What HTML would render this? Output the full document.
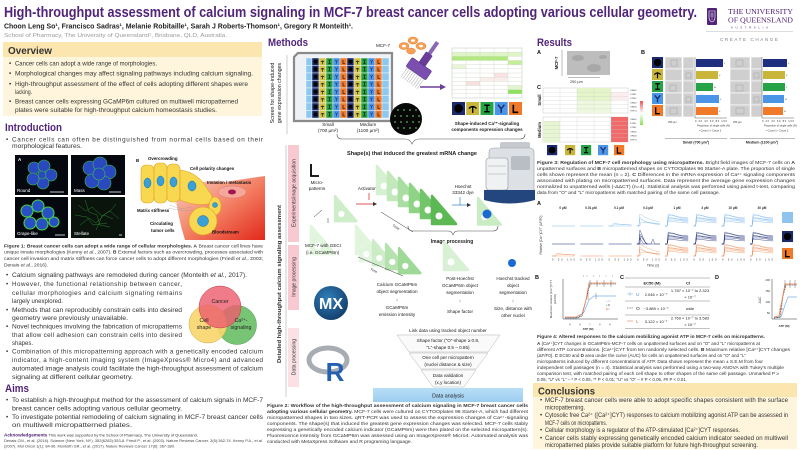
<!DOCTYPE html>
<html><head><meta charset="utf-8">
<style>
html,body{margin:0;padding:0;background:#fff;width:800px;height:450px;overflow:hidden}
svg{display:block;font-family:"Liberation Sans",Arial,sans-serif}
.b{font-size:6.3px;fill:#333}
.c{font-size:4.2px;fill:#333}
.t{font-size:4.8px;fill:#222}
.bd{font-weight:bold}
</style></head><body>
<svg width="800" height="450" viewBox="0 0 800 450" xmlns="http://www.w3.org/2000/svg" xmlns:xlink="http://www.w3.org/1999/xlink">
<defs>
<linearGradient id="blood" x1="0" y1="0" x2="1" y2="1"><stop offset="0" stop-color="#fbd6c8"/><stop offset="0.55" stop-color="#f27a5e"/><stop offset="1" stop-color="#e2281c"/></linearGradient>
<radialGradient id="mx" cx="0.4" cy="0.35" r="0.7"><stop offset="0" stop-color="#2f7fb8"/><stop offset="1" stop-color="#123d6b"/></radialGradient>
<linearGradient id="da" x1="0" y1="0" x2="0" y2="1"><stop offset="0" stop-color="#b8def6"/><stop offset="1" stop-color="#9ccdef"/></linearGradient>
<g id="iO"><rect width="12" height="12" fill="#1b2a6b"/><circle cx="6" cy="6" r="4" fill="#000"/></g>
<g id="iT"><rect width="12" height="12" fill="#c9b53a"/><path d="M6,4.5v5.5M2.5,6q3.5,-3.5 7,0" stroke="#000" stroke-width="1.3" fill="none"/></g>
<g id="iI"><rect width="12" height="12" fill="#27a347"/><path d="M6,3v6M3.5,3h5M3.5,9h5" stroke="#000" stroke-width="1.3" fill="none"/></g>
<g id="iY"><rect width="12" height="12" fill="#4a95e6"/><path d="M3,2.5l3,3.8l3,-3.8M6,6.3v3.7" stroke="#1b2a6b" stroke-width="1.4" fill="none"/></g>
<g id="iL"><rect width="12" height="12" fill="#f07a2a"/><path d="M4,2.5v7h4.5" stroke="#000" stroke-width="1.5" fill="none"/></g>
<g id="prow" stroke="#fff" stroke-width="0.4">
<rect x="306" width="6" height="7.5" fill="#8cc8f0"/>
<rect x="312" width="7" height="7.5" fill="#1b2a6b"/><rect x="319" width="7" height="7.5" fill="#d4c445"/><rect x="326" width="7" height="7.5" fill="#27a347"/><rect x="333" width="7" height="7.5" fill="#4a95e6"/><rect x="340" width="7" height="7.5" fill="#f07a2a"/>
<rect x="347" width="7" height="7.5" fill="#1b2a6b"/><rect x="354" width="7" height="7.5" fill="#d4c445"/><rect x="361" width="7" height="7.5" fill="#27a347"/><rect x="368" width="7" height="7.5" fill="#4a95e6"/><rect x="375" width="7" height="7.5" fill="#f07a2a"/>
<rect x="382" width="7" height="7.5" fill="#8cc8f0"/>
<g stroke="none"><circle cx="315.5" cy="3.75" r="2" fill="#000"/><circle cx="350.5" cy="3.75" r="2" fill="#000"/></g>
<path d="M322.5,2.8v3.5M320.8,3.8q1.7,-1.8 3.4,0M357.5,2.8v3.5M355.8,3.8q1.7,-1.8 3.4,0M329.5,2v3.5M328.3,2h2.4M328.3,5.5h2.4M364.5,2v3.5M363.3,2h2.4M363.3,5.5h2.4M343,2v3.5h2M378,2v3.5h2" stroke="#000" stroke-width="0.6" fill="none"/>
<path d="M335.3,2l1.2,1.6l1.2,-1.6M336.5,3.6v2.2M370.3,2l1.2,1.6l1.2,-1.6M371.5,3.6v2.2" stroke="#1b2a6b" stroke-width="0.6" fill="none"/>
</g>
<g id="tri"><path d="M0,0L0,28L24,28Z" stroke-linejoin="round" stroke-width="2.5"/><circle cx="7" cy="20" r="3.5" fill="#fff" stroke="none"/></g>
<g id="flat" fill="none"><polyline points="0,15 23,15"/></g>
<g id="small" fill="none" stroke-width="0.35"><polyline points="0,15 3,15 5,12 10,13 23,14"/><polyline points="0,15 4,15 6,13 12,13.5 23,14"/><polyline points="0,15 23,15"/></g>
<g id="peak" fill="none" stroke-width="0.35"><polyline points="0,15 2,15 3,3 8,6 15,9 23,11"/><polyline points="0,15 2,15 3,8 10,11 23,13"/><polyline points="0,15 3,15 4,11 23,13"/><polyline points="0,15 2,15 3,6 7,10 13,12 23,14"/></g>
<g id="trans" fill="none" stroke-width="0.4"><polyline points="0,15 2,15 3,1 6,8 9,15 23,15"/><polyline points="0,15 2,15 3,5 7,11 10,15"/><polyline points="0,15 3,15 4,7 8,13 11,15"/><polyline points="0,15 2,15 3,9 6,14 8,15"/><polyline points="0,15 14,15 16,10 18,15 23,15"/></g>
<g id="plat" fill="none" stroke-width="0.4"><polyline points="0,15 2,15 3,6 8,7 14,8 23,9"/><polyline points="0,15 2,15 3,3 9,5 16,7 23,8"/><polyline points="0,15 2,15 3,9 10,9 17,10 23,11"/><polyline points="0,15 2,15 3,5 7,4 14,6 23,7"/><polyline points="0,15 2,15 3,10 12,11 23,12"/><polyline points="0,15 2,15 3,7 11,8 23,10"/></g>
</defs>

<!-- HEADER -->
<text x="4" y="17" font-size="14.5" font-weight="bold" fill="#51247a" textLength="693" lengthAdjust="spacingAndGlyphs">High-throughput assessment of calcium signaling in MCF-7 breast cancer cells adopting various cellular geometry.</text>
<text x="4" y="28.5" font-size="7" font-weight="bold" fill="#222" textLength="349" lengthAdjust="spacingAndGlyphs">Choon Leng So¹, Francisco Sadras¹, Melanie Robitaille¹, Sarah J Roberts-Thomson¹, Gregory R Monteith¹.</text>
<text x="4" y="37" font-size="5.6" fill="#9a9a9a" textLength="223" lengthAdjust="spacingAndGlyphs">School of Pharmacy, The University of Queensland¹, Brisbane, QLD, Australia.</text>
<!-- UQ logo -->
<rect x="707" y="8" width="10" height="17" rx="1" fill="#51247a"/>
<path d="M709,11h6v6q0,4 -3,5q-3,-1 -3,-5z" fill="none" stroke="#fff" stroke-width="0.6"/>
<path d="M710,14h4M710,16h4M712,12v8" stroke="#fff" stroke-width="0.4"/>
<text x="728" y="14" font-family="Liberation Serif,serif" font-size="7.5" fill="#51247a" textLength="65" lengthAdjust="spacingAndGlyphs">THE UNIVERSITY</text>
<text x="728" y="22.5" font-family="Liberation Serif,serif" font-size="7.5" fill="#51247a" textLength="65" lengthAdjust="spacingAndGlyphs">OF QUEENSLAND</text>
<text x="731" y="28.5" font-size="2.8" fill="#51247a" textLength="37" lengthAdjust="spacing">AUSTRALIA</text>
<line x1="706" y1="31.5" x2="793" y2="31.5" stroke="#bbb" stroke-width="0.5"/>
<text x="720" y="41" font-size="4.6" fill="#7d7d8d" textLength="58" lengthAdjust="spacing">CREATE CHANGE</text>

<!-- OVERVIEW -->
<rect x="3" y="42" width="259" height="74" fill="#fef5dc"/>
<rect x="3" y="42" width="259" height="15" fill="#fbe6b0"/>
<text x="8" y="54" font-size="10" font-weight="bold" fill="#333" textLength="44" lengthAdjust="spacingAndGlyphs">Overview</text>
<g class="b">
<text x="9" y="65.5">•</text><text x="15" y="65.5" textLength="142" lengthAdjust="spacingAndGlyphs">Cancer cells can adopt a wide range of morphologies.</text>
<text x="9" y="75.5">•</text><text x="15" y="75.5" textLength="238" lengthAdjust="spacingAndGlyphs">Morphological changes may affect signaling pathways including calcium signaling.</text>
<text x="9" y="86">•</text><text x="15" y="86" textLength="233" lengthAdjust="spacingAndGlyphs">High-throughput assessment of the effect of cells adopting different shapes were</text>
<text x="15" y="94" textLength="17" lengthAdjust="spacingAndGlyphs">lacking.</text>
<text x="9" y="103.5">•</text><text x="15" y="103.5" textLength="223" lengthAdjust="spacingAndGlyphs">Breast cancer cells expressing GCaMP6m cultured on multiwell micropatterned</text>
<text x="15" y="112" textLength="202" lengthAdjust="spacingAndGlyphs">plates were suitable for high-throughput calcium homeostasis studies.</text>
</g>

<!-- INTRODUCTION -->
<text x="5" y="131" font-size="11" font-weight="bold" fill="#51247a" textLength="57" lengthAdjust="spacingAndGlyphs">Introduction</text>
<g class="b">
<text x="6" y="141.5">•</text><text x="12" y="141.5" textLength="251" lengthAdjust="spacing">Cancer cells can often be distinguished from normal cells based on their</text>
<text x="12" y="148.2" textLength="70" lengthAdjust="spacingAndGlyphs">morphological features.</text>
</g>
<!-- Fig1 A -->
<rect x="15" y="155" width="53" height="40" fill="#05080f"/>
<rect x="71" y="155" width="54" height="40" fill="#05080f"/>
<rect x="15" y="197" width="53" height="41" fill="#05080f"/>
<rect x="71" y="197" width="54" height="41" fill="#0a140c"/>
<g fill="#2a48c0" stroke="#3cbf4a" stroke-width="0.6">
<circle cx="34" cy="168" r="6"/><circle cx="44" cy="166" r="6"/><circle cx="51" cy="175" r="6"/><circle cx="43" cy="183" r="6"/><circle cx="33" cy="179" r="6"/><circle cx="42" cy="175" r="4"/>
<circle cx="90" cy="168" r="7"/><circle cx="100" cy="164" r="7"/><circle cx="109" cy="172" r="7"/><circle cx="104" cy="183" r="7"/><circle cx="92" cy="181" r="7"/><circle cx="99" cy="174" r="6"/>
</g>
<g fill="#2850c4" stroke="#4ad04a" stroke-width="1.1">
<circle cx="27" cy="211" r="6"/><circle cx="38" cy="206" r="6"/><circle cx="48" cy="213" r="6"/><circle cx="30" cy="223" r="6"/><circle cx="42" cy="224" r="6"/><circle cx="54" cy="222" r="5"/>
</g>
<g stroke="#2f8a34" stroke-width="0.5" fill="none" opacity="0.9">
<path d="M78,205l8,6l6,-4l10,9l8,-5l9,8M80,225l9,-7l7,5l8,-8l9,4M85,200l4,12l8,3l3,10l10,2M96,230l6,-14l9,-6l5,-6M75,215l12,2l6,8l14,-2"/>
</g>
<g fill="#fff" font-size="4.5">
<text x="18" y="161" font-weight="bold">A</text>
<text x="17" y="192">Round</text><text x="74" y="192">Mass</text><text x="17" y="235">Grape-like</text><text x="74" y="235">Stellate</text>
</g>
<path d="M50,192h14M109,192h12M55,235h10M119,235h3" stroke="#fff" stroke-width="0.8"/>
<!-- Fig1 B -->
<path d="M175,190 q30,-12 50,-8 q25,-4 40,-6 V240 H185 q-8,-25 -10,-50z" fill="url(#blood)"/>
<ellipse cx="232" cy="192" rx="14" ry="6" fill="#f5a79c" stroke="#e07a70" stroke-width="0.5"/>
<ellipse cx="232" cy="192" rx="4" ry="2.5" fill="#a0184e"/>
<ellipse cx="196" cy="198" rx="10" ry="5" fill="#f5a79c" stroke="#e07a70" stroke-width="0.5"/>
<ellipse cx="196" cy="198" rx="3.5" ry="2" fill="#a0184e"/>
<g fill="#f8d850" stroke="#e0a020" stroke-width="0.6">
<rect x="141" y="165" width="13" height="38" rx="5"/><rect x="154" y="163" width="13" height="40" rx="5"/><rect x="167" y="164" width="13" height="38" rx="5"/>
<path d="M180,170 q18,2 28,20 q8,8 0,14 q-14,2 -28,-4z"/>
<ellipse cx="215" cy="206" rx="6" ry="9"/>
<circle cx="203" cy="221" r="14"/>
</g>
<g fill="#3aa0d8" stroke="#1c6fa8" stroke-width="0.5">
<ellipse cx="147.5" cy="183" rx="3.5" ry="5"/><ellipse cx="160.5" cy="181" rx="3.5" ry="5"/><ellipse cx="173.5" cy="182" rx="3.5" ry="5"/><ellipse cx="192" cy="186" rx="4" ry="5"/><circle cx="203" cy="221" r="5.5"/><circle cx="215" cy="205" r="2.5"/>
</g>
<path d="M170,205 l10,4 l12,-2 M168,208 l15,3 l10,-1 M175,203 l8,8" stroke="#999" stroke-width="0.3" fill="none"/>
<g font-size="4.4" font-weight="bold" fill="#111">
<text x="136" y="162">B</text>
<text x="148" y="160">Overcrowding</text>
<text x="190" y="170">Cell polarity changes</text>
<text x="207" y="184">Invasion / metastasis</text>
<text x="137" y="212">Matrix stiffness</text>
<text x="150" y="225">Circulating</text><text x="151" y="232">tumor cells</text>
<text x="212" y="233.5">Bloodstream</text>
</g>
<g class="c">
<text x="4" y="247.3" textLength="259" lengthAdjust="spacingAndGlyphs"><tspan font-weight="bold">Figure 1: Breast cancer cells can adopt a wide range of cellular morphologies. A</tspan> Breast cancer cell lines have</text>
<text x="4" y="253.3" textLength="259" lengthAdjust="spacingAndGlyphs">unique innate morphologies (Kenny <tspan font-style="italic">et al.</tspan>, 2007). <tspan font-weight="bold">B</tspan> External factors such as overcrowding, processes associated with</text>
<text x="4" y="259.8" textLength="259" lengthAdjust="spacingAndGlyphs">cancer cell invasion and matrix stiffness can force cancer cells to adopt different morphologies (Friedl <tspan font-style="italic">et al.</tspan>, 2003;</text>
<text x="4" y="266.3" textLength="44" lengthAdjust="spacingAndGlyphs">Denais <tspan font-style="italic">et al.</tspan>, 2016).</text>
</g>
<g class="b">
<text x="6" y="277.2">•</text><text x="12" y="277.2" textLength="235" lengthAdjust="spacingAndGlyphs">Calcium signaling pathways are remodeled during cancer (Monteith <tspan font-style="italic">et al.</tspan>, 2017).</text>
<text x="6" y="286.2">•</text><text x="12" y="286.2" textLength="170" lengthAdjust="spacing">However, the functional relationship between cancer,</text>
<text x="12" y="294.9" textLength="170" lengthAdjust="spacing">cellular morphologies and calcium signaling remains</text>
<text x="12" y="303.2" textLength="51" lengthAdjust="spacingAndGlyphs">largely unexplored.</text>
<text x="6" y="312.2">•</text><text x="12" y="312.2" textLength="170" lengthAdjust="spacingAndGlyphs">Methods that can reproducibly constrain cells into desired</text>
<text x="12" y="320.2" textLength="116" lengthAdjust="spacingAndGlyphs">geometry were previously unavailable.</text>
<text x="6" y="328.5">•</text><text x="12" y="328.5" textLength="170" lengthAdjust="spacingAndGlyphs">Novel techniques involving the fabrication of micropatterns</text>
<text x="12" y="337" textLength="170" lengthAdjust="spacing">that allow cell adhesion can constrain cells into desired</text>
<text x="12" y="345.2" textLength="21" lengthAdjust="spacingAndGlyphs">shapes.</text>
<text x="6" y="353.5">•</text><text x="12" y="353.5" textLength="251" lengthAdjust="spacing">Combination of this micropatterning approach with a genetically encoded calcium</text>
<text x="12" y="362" textLength="251" lengthAdjust="spacing">indicator, a high-content imaging system (ImageXpress® Micro4) and advanced</text>
<text x="12" y="370.5" textLength="251" lengthAdjust="spacingAndGlyphs">automated image analysis could facilitate the high-throughput assessment of calcium</text>
<text x="12" y="379" textLength="121" lengthAdjust="spacingAndGlyphs">signaling at different cellular geometry.</text>
</g>
<!-- Venn -->
<circle cx="237" cy="325" r="19.5" fill="#76c474" stroke="#4a9a48" stroke-width="0.5"/>
<circle cx="208" cy="324" r="19" fill="#f9d66f" fill-opacity="0.92" stroke="#d6a83a" stroke-width="0.5"/>
<circle cx="220" cy="307" r="21" fill="#ec5f6e" fill-opacity="0.82" stroke="#c43a4a" stroke-width="0.5"/>
<g font-size="5.3" fill="#222" text-anchor="middle">
<text x="220" y="303">Cancer</text>
<text x="204" y="322">Cell</text><text x="204" y="329">shape</text>
<text x="241" y="322">Ca²⁺-</text><text x="241" y="329">signaling</text>
</g>
<!-- AIMS -->
<text x="5" y="392" font-size="11" font-weight="bold" fill="#51247a" textLength="24" lengthAdjust="spacingAndGlyphs">Aims</text>
<g class="b">
<text x="6" y="402.2">•</text><text x="12" y="402.2" textLength="251" lengthAdjust="spacingAndGlyphs">To establish a high-throughput method for the assessment of calcium signals in MCF-7</text>
<text x="12" y="410.3" textLength="170" lengthAdjust="spacingAndGlyphs">breast cancer cells adopting various cellular geometry.</text>
<text x="6" y="419">•</text><text x="12" y="419" textLength="251" lengthAdjust="spacingAndGlyphs">To investigate potential remodeling of calcium signaling in MCF-7 breast cancer cells</text>
<text x="12" y="427.2" textLength="120" lengthAdjust="spacingAndGlyphs">on multiwell micropatterned plates.</text>
</g>
<text x="4" y="436.5" font-size="4" fill="#333" textLength="194" lengthAdjust="spacingAndGlyphs"><tspan font-weight="bold" fill="#51247a" font-size="4.6">Acknowledgements</tspan> This work was supported by the School of Pharmacy, The University of Queensland.</text>
<text x="4" y="442" font-size="3.7" fill="#444" textLength="259" lengthAdjust="spacingAndGlyphs">Denais CM., et al. (2016). Science (New York, NY). 352(6283):353-8. Friedl P., et al. (2003). Nature Reviews Cancer. 3(5):362-74. Kenny P.A., et al.</text>
<text x="4" y="447.5" font-size="3.7" fill="#444" textLength="171" lengthAdjust="spacingAndGlyphs">(2007). Mol Oncol 1(1): 84-96. Monteith GR., et al. (2017). Nature Reviews Cancer 17(6): 367-380.</text>

<!-- METHODS -->
<text x="268" y="46" font-size="11" font-weight="bold" fill="#51247a" textLength="40" lengthAdjust="spacingAndGlyphs">Methods</text>
<g font-size="5.3" fill="#222" text-anchor="middle">
<text transform="translate(274,93) rotate(-90)">Screen for shape-induced</text>
<text transform="translate(281,93) rotate(-90)">gene expression changes</text>
</g>
<line x1="287" y1="55" x2="287" y2="134" stroke="#999" stroke-width="0.5"/>
<!-- plate -->
<path d="M298,53H392V121H294V57Z" fill="#eef2f6" stroke="#8a8a8a" stroke-width="2.2"/>
<use xlink:href="#prow" y="58"/><use xlink:href="#prow" y="65.5"/><use xlink:href="#prow" y="73"/><use xlink:href="#prow" y="80.5"/>
<use xlink:href="#prow" y="88"/><use xlink:href="#prow" y="95.5"/><use xlink:href="#prow" y="103"/><use xlink:href="#prow" y="110.5"/>
<g font-size="4.6" fill="#222" text-anchor="middle">
<text x="328" y="126">Small</text><text x="328" y="132">(700 µm²)</text>
<text x="368" y="126">Medium</text><text x="368" y="132">(1100 µm²)</text>
<text x="383" y="47">MCF-7</text>
</g>
<!-- cells -->
<g fill="#f6a055" stroke="#e07a30" stroke-width="0.5">
<ellipse cx="404" cy="46" rx="5" ry="3.5"/><ellipse cx="413" cy="40.5" rx="5" ry="3.5"/><ellipse cx="421" cy="46" rx="5" ry="3.5"/><ellipse cx="411" cy="51" rx="4.5" ry="3"/>
</g>
<g fill="#fff"><ellipse cx="404" cy="46" rx="2" ry="1.3"/><ellipse cx="413" cy="40.5" rx="2" ry="1.3"/><ellipse cx="421" cy="46" rx="2" ry="1.3"/></g>
<!-- pipette -->
<g transform="translate(418,70) rotate(35)">
<rect x="-2" y="-34" width="4" height="16" fill="#8a68b4"/>
<rect x="-4" y="-20" width="8" height="14" rx="1" fill="#6a3e98"/>
<rect x="-12" y="-7" width="24" height="11" rx="1.5" fill="#7b4fb0" stroke="#4e2a78" stroke-width="0.5"/>
<path d="M-10,4v12M-7.5,4v12M-5,4v12M-2.5,4v12M0,4v12M2.5,4v12M5,4v12M7.5,4v12M10,4v12" stroke="#b8b8b8" stroke-width="0.6"/>
</g>
<line x1="420" y1="87" x2="441" y2="87" stroke="#6a3e98" stroke-width="1.6"/>
<polygon points="440,84 446,87 440,90" fill="#6a3e98"/>
<!-- micrograph circle -->
<circle cx="406" cy="119" r="16" fill="#080808"/>
<g fill="#4f8a4f">
<circle cx="398" cy="110" r="1"/><circle cx="404" cy="110" r="1"/><circle cx="410" cy="110" r="1"/><circle cx="416" cy="110" r="1"/>
<circle cx="395" cy="116" r="1"/><circle cx="401" cy="116" r="1"/><circle cx="407" cy="116" r="1"/><circle cx="413" cy="116" r="1"/><circle cx="419" cy="116" r="1"/>
<circle cx="395" cy="122" r="1"/><circle cx="401" cy="122" r="1"/><circle cx="407" cy="122" r="1"/><circle cx="413" cy="122" r="1"/><circle cx="419" cy="122" r="1"/>
<circle cx="398" cy="128" r="1"/><circle cx="404" cy="128" r="1"/><circle cx="410" cy="128" r="1"/><circle cx="416" cy="128" r="1"/>
</g>
<!-- methods heatmap -->
<rect x="452" y="48" width="70" height="50" fill="#fff"/>
<rect x="452" y="52.2" width="70" height="4.2" fill="#dff5c8"/>
<rect x="452" y="56.3" width="56" height="4.2" fill="#b2e97c"/>
<rect x="508" y="60.5" width="14" height="4.2" fill="#c4ef98"/>
<rect x="452" y="64.7" width="14" height="4.2" fill="#e6f6d6"/>
<rect x="494" y="73" width="14" height="4.2" fill="#f8e2e2"/>
<rect x="480" y="77.2" width="28" height="4.2" fill="#fbecec"/>
<rect x="466" y="81.3" width="14" height="4.2" fill="#f6e0e0"/>
<rect x="508" y="85.5" width="14" height="4.2" fill="#e2f5d0"/>
<rect x="508" y="89.7" width="14" height="4.2" fill="#8ee25a"/>
<path d="M452,52.2h70M452,56.3h70M452,60.5h70M452,64.7h70M452,68.8h70M452,73h70M452,77.2h70M452,81.3h70M452,85.5h70M452,89.7h70M452,93.8h70M466,48v50M480,48v50M494,48v50M508,48v50" stroke="#cfd8c8" stroke-width="0.4"/>
<rect x="452" y="48" width="70" height="50" fill="none" stroke="#b8c8b0" stroke-width="0.5"/>
<use xlink:href="#iO" transform="translate(452,102) scale(1.083)"/>
<use xlink:href="#iT" transform="translate(466.2,102) scale(1.083)"/>
<use xlink:href="#iI" transform="translate(480.5,102) scale(1.083)"/>
<use xlink:href="#iY" transform="translate(494.7,102) scale(1.083)"/>
<use xlink:href="#iL" transform="translate(509,102) scale(1.083)"/>
<g font-size="4.5" font-weight="bold" fill="#222" text-anchor="middle">
<text x="487" y="125">Shape-induced Ca²⁺-signaling</text>
<text x="487" y="131">components expression changes</text>
</g>
<path d="M337,134q0,5 5,5H405q5,0 7,5q2,-5 7,-5H520q5,0 5,-5" stroke="#555" stroke-width="0.6" fill="none"/>
<text x="412" y="155" font-size="5.2" font-weight="bold" fill="#222" text-anchor="middle" textLength="130" lengthAdjust="spacingAndGlyphs">Shape(s) that induced the greatest mRNA change</text>
<!-- microscope -->
<rect x="500" y="142" width="30" height="9" rx="2" fill="#c6cacf"/>
<rect x="489" y="148" width="45" height="46" rx="4" fill="#dde0e4" stroke="#9aa0a6" stroke-width="0.6"/>
<rect x="486" y="158" width="22" height="32" rx="3" fill="#eff1f3" stroke="#8e949a" stroke-width="0.6"/>
<rect x="511" y="156" width="19" height="14" rx="2" fill="#b9bec4"/>
<path d="M488,166h18M488,174h18" stroke="#a0a6ac" stroke-width="0.5"/>
<path d="M484,190h51v10q-25,7 -51,0z" fill="#24467e"/>
<!-- lower methods labels -->
<text transform="translate(281,284) rotate(-90)" font-size="5.8" font-weight="bold" fill="#333" text-anchor="middle" textLength="158" lengthAdjust="spacingAndGlyphs">Detailed high-throughput calcium signaling assessment</text>
<line x1="286" y1="145" x2="286" y2="397" stroke="#999" stroke-width="0.5"/>
<rect x="288" y="145" width="11" height="97" fill="#f8c9d0"/>
<rect x="288" y="245" width="11" height="65" fill="#f8c9d0"/>
<rect x="288" y="328" width="11" height="59" fill="#fbe1e5"/>
<g font-size="5" fill="#333" text-anchor="middle">
<text transform="translate(295.5,193) rotate(-90)">Experiments/image acquisition</text>
<text transform="translate(295.5,277) rotate(-90)">Image processing</text>
<text transform="translate(295.5,357) rotate(-90)">Data processing</text>
</g>
<path d="M311,164v12h8" stroke="#000" stroke-width="1.8" fill="none"/>
<g font-size="4.6" fill="#222" text-anchor="middle">
<text x="317" y="184">Micro-</text><text x="317" y="190">patterns</text>
<text x="368" y="190">Activators</text>
<text x="463" y="188">Hoechst</text><text x="463" y="194">33342 dye</text>
</g>
<!-- triangles -->
<use xlink:href="#tri" transform="translate(335,196) scale(0.9)" fill="#cdeec8" stroke="#cdeec8"/>
<use xlink:href="#tri" transform="translate(311,226)" fill="#e2f6de" stroke="#e2f6de"/>
<use xlink:href="#tri" transform="translate(356,226)" fill="#e2f6de" stroke="#e2f6de"/>
<path d="M322,210l-8,7M328,218l0,5" stroke="#333" stroke-width="0.5"/>
<path d="M369,193v7M356,204h18" stroke="#d02020" stroke-width="0.7"/>
<polygon points="373,202 377,204 373,206" fill="#333"/>
<use xlink:href="#tri" transform="translate(377,166)" fill="#d6f0d2" stroke="#d6f0d2"/>
<use xlink:href="#tri" transform="translate(388,172)" fill="#c2e8bc" stroke="#c2e8bc"/>
<use xlink:href="#tri" transform="translate(399,178)" fill="#a9dea2" stroke="#a9dea2"/>
<use xlink:href="#tri" transform="translate(410,184)" fill="#8fd386" stroke="#8fd386"/>
<use xlink:href="#tri" transform="translate(421,190)" fill="#72c569" stroke="#72c569"/>
<use xlink:href="#tri" transform="translate(432,196)" fill="#5cb852" stroke="#5cb852"/>
<line x1="381" y1="212" x2="413" y2="232" stroke="#333" stroke-width="0.5"/>
<text x="392" y="226" font-size="3.6" fill="#333" transform="rotate(32 392 226)">Time</text>
<path d="M460,197v8M452,205h16" stroke="#3a8ad0" stroke-width="0.7"/>
<polygon points="467,203 471,205 467,207" fill="#333"/>
<use xlink:href="#tri" transform="translate(478,198) scale(0.95)" fill="#c9ecc4" stroke="#c9ecc4"/>
<circle cx="487" cy="214" r="4.5" fill="#1a6ad0"/>
<path d="M408,226q0,5 5,5H448q4,0 5,4q1,-4 5,-4H493q5,0 5,-5" stroke="#555" stroke-width="0.6" fill="none"/>
<text x="452" y="243" font-size="5" font-weight="bold" fill="#222" text-anchor="middle">Image processing</text>
<!-- image processing row -->
<g opacity="0.85">
<use xlink:href="#tri" transform="translate(360,236) scale(0.9)" fill="#dff4db" stroke="#dff4db"/>
<use xlink:href="#tri" transform="translate(373,240) scale(0.9)" fill="#c6eac0" stroke="#c6eac0"/>
<use xlink:href="#tri" transform="translate(386,244) scale(0.9)" fill="#a9dea2" stroke="#a9dea2"/>
<use xlink:href="#tri" transform="translate(399,248) scale(0.9)" fill="#8fd386" stroke="#8fd386"/>
</g>
<line x1="358" y1="257" x2="403" y2="276" stroke="#333" stroke-width="0.5"/>
<text x="370" y="270" font-size="3.4" fill="#333" transform="rotate(25 370 270)">Time</text>
<use xlink:href="#tri" transform="translate(444,242)" fill="#d8f1d4" stroke="#d8f1d4"/>
<circle cx="512" cy="263" r="4" fill="#1a6ad0"/>
<g font-size="4.6" fill="#222">
<text x="305" y="247">MCF-7 with GECI</text><text x="306" y="254">(i.e. GCaMP6m)</text>
</g>
<circle cx="331" cy="303" r="17" fill="url(#mx)"/>
<text x="331" y="309" font-size="16" font-weight="bold" fill="#fff" text-anchor="middle">MX</text>
<ellipse cx="328" cy="360" rx="19" ry="12" fill="none" stroke="#a8adb3" stroke-width="5"/>
<text x="335" y="381" font-size="26" font-weight="bold" fill="#2560b0" text-anchor="middle">R</text>
<g font-size="4.6" fill="#222" text-anchor="middle">
<text x="397" y="286">Calcium GCaMP6m</text><text x="397" y="293">object segmentation</text>
<text x="397" y="301">↓</text>
<text x="397" y="309">GCaMP6m</text><text x="397" y="316">emission intensity</text>
<text x="460" y="280">Post-Hoechst</text><text x="460" y="287">GCaMP6m object</text><text x="460" y="294">segmentation</text>
<text x="460" y="302">↓</text><text x="460" y="313">Shape factor</text>
<text x="513" y="280">Hoechst tracked</text><text x="513" y="287">object</text><text x="513" y="294">segmentation</text>
<text x="513" y="302">↓</text><text x="513" y="310">Size, distance with</text><text x="513" y="317">other nuclei</text>
<text x="448" y="332">Link data using tracked object number</text>
</g>
<g fill="#fafafa" stroke="#b5b5b5" stroke-width="0.5">
<path d="M397,335H500L488,352H409Z"/>
<path d="M409,353H488L476,369H421Z"/>
<path d="M421,370H476L464,387H433Z"/>
</g>
<g font-size="4.6" fill="#222" text-anchor="middle">
<text x="448" y="342">Shape factor ("O"-shape ≥ 0.9,</text><text x="448" y="349">"L"-shape 0.5 – 0.85)</text>
<text x="448" y="359">One cell per micropattern</text><text x="448" y="366">(nuclei distance &amp; size)</text>
<text x="448" y="377">Data validation</text><text x="448" y="384">(x,y location)</text>
</g>
<rect x="373" y="388" width="150" height="14" fill="url(#da)"/>
<text x="448" y="397.5" font-size="5.3" fill="#222" text-anchor="middle">Data analysis</text>
<g class="c">
<text x="267" y="407.2" textLength="261" lengthAdjust="spacingAndGlyphs" font-weight="bold">Figure 2: Workflow of the high-throughput assessment of calcium signaling in MCF-7 breast cancer cells</text>
<text x="267" y="413.2" textLength="261" lengthAdjust="spacingAndGlyphs"><tspan font-weight="bold">adopting various cellular geometry.</tspan> MCF-7 cells were cultured on CYTOOplates 96 Starter-A, which had different</text>
<text x="267" y="419.2" textLength="261" lengthAdjust="spacingAndGlyphs">micropatterned shapes in two sizes. qRT-PCR was used to assess the expression changes of Ca²⁺-signaling</text>
<text x="267" y="425.2" textLength="261" lengthAdjust="spacingAndGlyphs">components. The shape(s) that induced the greatest gene expression changes was selected. MCF-7 cells stably</text>
<text x="267" y="431.2" textLength="261" lengthAdjust="spacingAndGlyphs">expressing a genetically encoded calcium indicator (GCaMP6m) were then plated on the selected micropattern(s).</text>
<text x="267" y="437.2" textLength="261" lengthAdjust="spacingAndGlyphs">Fluorescence intensity from GCaMP6m was assessed using an ImageXpress® Micro4. Automated analysis was</text>
<text x="267" y="443.2" textLength="145" lengthAdjust="spacingAndGlyphs">conducted with MetaXpress Software and R programing language.</text>
</g>

<!-- RESULTS -->
<text x="537" y="46" font-size="11" font-weight="bold" fill="#51247a" textLength="35" lengthAdjust="spacingAndGlyphs">Results</text>
<g font-size="5.5" font-weight="bold" fill="#111">
<text x="537" y="54">A</text><text x="641" y="54">B</text><text x="537" y="89">C</text>
</g>
<text transform="translate(558,63) rotate(-90)" font-size="4.2" font-weight="bold" fill="#222" text-anchor="middle">MCF-7</text>
<line x1="562" y1="50" x2="562" y2="76" stroke="#777" stroke-width="0.5"/>
<rect x="567" y="51" width="43" height="24" fill="#bdbdbd"/>
<g fill="#a8a8a8"><ellipse cx="578" cy="58" rx="6" ry="3"/><ellipse cx="594" cy="68" rx="7" ry="4"/><ellipse cx="603" cy="57" rx="4" ry="2"/></g>
<line x1="568" y1="77.5" x2="600" y2="77.5" stroke="#555" stroke-width="0.4"/>
<text x="570" y="83" font-size="3.8" fill="#333">250 µm</text>
<!-- B -->
<use xlink:href="#iO" transform="translate(652,57) scale(0.92)"/>
<use xlink:href="#iT" transform="translate(652,69) scale(0.92)"/>
<use xlink:href="#iI" transform="translate(652,81) scale(0.92)"/>
<use xlink:href="#iY" transform="translate(652,93) scale(0.92)"/>
<use xlink:href="#iL" transform="translate(652,105) scale(0.92)"/>
<g fill="#cfcfcf" stroke="#fff" stroke-width="0.6">
<rect x="665" y="57" width="17" height="12"/><rect x="665" y="69" width="17" height="12"/><rect x="665" y="81" width="17" height="12"/><rect x="665" y="93" width="17" height="12"/><rect x="665" y="105" width="17" height="12"/>
<rect x="683" y="57" width="11" height="12"/><rect x="683" y="69" width="11" height="12"/><rect x="683" y="81" width="11" height="12"/><rect x="683" y="93" width="11" height="12"/><rect x="683" y="105" width="11" height="12"/>
<rect x="730" y="57" width="20" height="12"/><rect x="730" y="69" width="20" height="12"/><rect x="730" y="81" width="20" height="12"/><rect x="730" y="93" width="20" height="12"/><rect x="730" y="105" width="20" height="12"/>
<rect x="751" y="57" width="11" height="12"/><rect x="751" y="69" width="11" height="12"/><rect x="751" y="81" width="11" height="12"/><rect x="751" y="93" width="11" height="12"/><rect x="751" y="105" width="11" height="12"/>
</g>
<g fill="none" stroke="#9a9a9a" stroke-width="0.4">
<rect x="671" y="60" width="6" height="6"/><rect x="686" y="73" width="5" height="5"/><rect x="670" y="85" width="6" height="6"/><rect x="686" y="97" width="5" height="5"/><rect x="670" y="108" width="7" height="6"/>
<rect x="736" y="60" width="7" height="6"/><rect x="754" y="73" width="5" height="5"/><rect x="736" y="85" width="7" height="6"/><rect x="754" y="97" width="5" height="5"/><rect x="736" y="108" width="8" height="6"/>
</g>
<g>
<rect x="696" y="59" width="27" height="8" fill="#1f2f80"/><rect x="696" y="71" width="22" height="8" fill="#c9b53a"/><rect x="696" y="83" width="17" height="8" fill="#27a347"/><rect x="696" y="95" width="23" height="8" fill="#4a95e6"/><rect x="696" y="107" width="22" height="8" fill="#f07a2a"/>
<rect x="763" y="59" width="24" height="8" fill="#1f2f80"/><rect x="763" y="71" width="22" height="8" fill="#c9b53a"/><rect x="763" y="83" width="22" height="8" fill="#27a347"/><rect x="763" y="95" width="21" height="8" fill="#4a95e6"/><rect x="763" y="107" width="20" height="8" fill="#f07a2a"/>
</g>
<path d="M695,57v61h32M762,57v61h32" stroke="#333" stroke-width="0.4" fill="none"/>
<g fill="#333" font-size="3">
<text x="724" y="64">•</text><text x="719" y="76">•:</text><text x="714" y="88">••</text><text x="720" y="100">•.</text><text x="719" y="112">•:</text>
<text x="788" y="64">•:</text><text x="786" y="76">•:</text><text x="786" y="88">•</text><text x="785" y="100">••</text><text x="784" y="112">••</text>
</g>
<g font-size="2.6" fill="#333">
<text x="695" y="122" textLength="32" lengthAdjust="spacing">0 20 40 60 80 100</text>
<text x="762" y="122" textLength="32" lengthAdjust="spacing">0 20 40 60 80 100</text>
<text x="697" y="126.5">Proportion of single cells (%)</text><text x="764" y="126.5">Proportion of single cells (%)</text>
<text x="699" y="131.5">▪ Count 1   ▪ Count 2</text><text x="766" y="131.5">▪ Count 1   ▪ Count 2</text>
<text x="668" y="123">250 µm</text><text x="733" y="123">250 µm</text>
</g>
<path d="M665,138.5h62M730,138.5h65" stroke="#555" stroke-width="0.4"/>
<g font-size="3.6" font-weight="bold" fill="#222" text-anchor="middle">
<text x="696" y="143.5">Small (700 µm²)</text><text x="762" y="143.5">Medium (1100 µm²)</text>
</g>
<!-- C heatmap -->
<rect x="543" y="88" width="85" height="25" fill="#fff" stroke="#bbb" stroke-width="0.4"/>
<rect x="543" y="117" width="85" height="25" fill="#fff" stroke="#bbb" stroke-width="0.4"/>
<rect x="577" y="88" width="34" height="12" fill="#e4f5c8"/>
<rect x="577" y="100" width="34" height="13" fill="#eef8de"/>
<rect x="611" y="92" width="17" height="8" fill="#fbeeee"/>
<rect x="543" y="121" width="17" height="21" fill="#e6f5d2"/>
<rect x="611" y="117" width="17" height="25" fill="#f06a6a"/>
<path d="M560,88v25M577,88v25M594,88v25M611,88v25M560,117v25M577,117v25M594,117v25M611,117v25M543,92.2h85M543,96.3h85M543,100.5h85M543,104.7h85M543,108.8h85M543,121.2h85M543,125.3h85M543,129.5h85M543,133.7h85M543,137.8h85" stroke="#ccc" stroke-width="0.3"/>
<g font-size="4.2" font-weight="bold" fill="#222" text-anchor="middle">
<text transform="translate(541,100) rotate(-90)">Small</text>
<text transform="translate(541,130) rotate(-90)">Medium</text>
</g>
<g font-size="2.2" fill="#444">
<text x="630" y="91">ORAI1</text><text x="630" y="95">STIM1</text><text x="630" y="99">STIM2</text><text x="630" y="103.5">ORAI2</text><text x="630" y="107.5">ORAI3</text><text x="630" y="111.5">TRPC1</text>
<text x="630" y="120">ORAI1</text><text x="630" y="124">STIM1</text><text x="630" y="128">STIM2</text><text x="630" y="132.5">ORAI2</text><text x="630" y="136.5">ORAI3</text><text x="630" y="140.5">TRPC1</text>
</g>
<defs><linearGradient id="cb" x1="0" y1="0" x2="0" y2="1"><stop offset="0" stop-color="#f05050"/><stop offset="0.5" stop-color="#fff"/><stop offset="1" stop-color="#8ee05a"/></linearGradient></defs>
<rect x="640" y="101" width="3" height="24" fill="url(#cb)"/>
<use xlink:href="#iO" transform="translate(547,145) scale(0.85)"/>
<use xlink:href="#iT" transform="translate(565,145) scale(0.85)"/>
<use xlink:href="#iI" transform="translate(581,145) scale(0.85)"/>
<use xlink:href="#iY" transform="translate(598,145) scale(0.85)"/>
<use xlink:href="#iL" transform="translate(614,145) scale(0.85)"/>
<g class="c">
<text x="537" y="164.2" textLength="258" lengthAdjust="spacingAndGlyphs"><tspan font-weight="bold">Figure 3: Regulation of MCF-7 cell morphology using micropatterns.</tspan> Bright field images of MCF-7 cells on <tspan font-weight="bold">A</tspan></text>
<text x="537" y="169.8" textLength="258" lengthAdjust="spacingAndGlyphs">unpatterned surfaces and <tspan font-weight="bold">B</tspan> micropatterned shapes on CYTOOplates 96 Starter-A plate. The proportion of single</text>
<text x="537" y="175.8" textLength="258" lengthAdjust="spacingAndGlyphs">cells shown represent the mean (n = 2). <tspan font-weight="bold">C</tspan> Differences in the mRNA expression of Ca²⁺ signaling components</text>
<text x="537" y="182.2" textLength="258" lengthAdjust="spacingAndGlyphs">associated with plating on micropatterned surfaces. Data represent the average gene expression changes</text>
<text x="537" y="188.2" textLength="258" lengthAdjust="spacingAndGlyphs">normalized to unpatterned wells (-ΔΔCT) (n=4). Statistical analysis was performed using paired t-test, comparing</text>
<text x="537" y="194.2" textLength="183" lengthAdjust="spacingAndGlyphs">data from "O" and "L" micropatterns with matched pairing of the same cell passage.</text>
</g>
<!-- Fig 4A -->
<text x="537" y="205" font-size="5.5" font-weight="bold" fill="#111">A</text>
<g font-size="3.2" font-weight="bold" fill="#333" text-anchor="middle">
<text x="563" y="209">0 µM</text><text x="591" y="209">0.01 µM</text><text x="619" y="209">0.1 µM</text><text x="648" y="209">0.3 µM</text>
<text x="677" y="209">1 µM</text><text x="705" y="209">3 µM</text><text x="733" y="209">10 µM</text><text x="762" y="209">30 µM</text>
</g>
<text transform="translate(542,235) rotate(-90)" font-size="3.2" fill="#333" text-anchor="middle">Relative [Ca²⁺]CYT (ΔF/F0)</text>
<g stroke="#7fb8ec" stroke-width="0.5">
<use xlink:href="#flat" x="552" y="211"/><use xlink:href="#flat" x="580.3" y="211"/><use xlink:href="#small" x="608.6" y="211"/><use xlink:href="#peak" x="636.9" y="211"/>
<use xlink:href="#plat" x="665.2" y="211"/><use xlink:href="#plat" x="693.5" y="211"/><use xlink:href="#plat" x="721.8" y="211"/><use xlink:href="#plat" x="750.1" y="211"/>
</g>
<g stroke="#1f2f7a" stroke-width="0.6">
<use xlink:href="#flat" x="552" y="229"/><use xlink:href="#flat" x="580.3" y="229"/><use xlink:href="#flat" x="608.6" y="229"/><use xlink:href="#trans" x="636.9" y="229"/>
<use xlink:href="#plat" x="665.2" y="229"/><use xlink:href="#plat" x="693.5" y="229"/><use xlink:href="#plat" x="721.8" y="229"/><use xlink:href="#plat" x="750.1" y="229"/>
</g>
<g stroke="#f0905a" stroke-width="0.5">
<use xlink:href="#small" x="552" y="241"/><use xlink:href="#flat" x="580.3" y="241"/><use xlink:href="#flat" x="608.6" y="241"/><use xlink:href="#peak" x="636.9" y="241"/>
<use xlink:href="#plat" x="665.2" y="241"/><use xlink:href="#plat" x="693.5" y="241"/><use xlink:href="#plat" x="721.8" y="241"/><use xlink:href="#plat" x="750.1" y="241"/>
</g>
<g font-size="2.6" fill="#333">
<text x="552" y="260.5" textLength="23" lengthAdjust="spacing">0  50  100</text><text x="580" y="260.5" textLength="23" lengthAdjust="spacing">0  50  100</text><text x="608.6" y="260.5" textLength="23" lengthAdjust="spacing">0  50  100</text><text x="637" y="260.5" textLength="23" lengthAdjust="spacing">0  50  100</text>
<text x="665" y="260.5" textLength="23" lengthAdjust="spacing">0  50  100</text><text x="693.5" y="260.5" textLength="23" lengthAdjust="spacing">0  50  100</text><text x="722" y="260.5" textLength="23" lengthAdjust="spacing">0  50  100</text><text x="750" y="260.5" textLength="23" lengthAdjust="spacing">0  50  100</text>
</g>
<text x="653" y="266.5" font-size="3.4" fill="#333" text-anchor="middle">Time (s)</text>
<rect x="782" y="212" width="11" height="11" fill="#8ec4ee"/>
<use xlink:href="#iO" transform="translate(782,231) scale(0.92)"/>
<use xlink:href="#iL" transform="translate(782,248) scale(0.92)"/>
<!-- Fig 4B -->
<g font-size="5.5" font-weight="bold" fill="#111"><text x="535" y="279">B</text><text x="620" y="279">C</text><text x="715" y="279">D</text></g>
<text transform="translate(552,299) rotate(-90)" font-size="3" fill="#333" text-anchor="middle">Maximum relative [Ca²⁺]CYT</text>
<text transform="translate(556,299) rotate(-90)" font-size="3" fill="#333" text-anchor="middle">(ΔF/F0)</text>
<path d="M563,279V319H618" stroke="#333" stroke-width="0.5" fill="none"/>
<polyline points="565,318 578,318 584,312 589,300 594,296 616,296" stroke="#7ab0e8" stroke-width="0.7" fill="none"/>
<polyline points="565,318 576,318 582,316 587,296 590,284 616,284" stroke="#222" stroke-width="0.6" fill="none" stroke-dasharray="1,0.6"/>
<polyline points="565,317 576,317 582,314 586,300 589,283 594,283 616,283" stroke="#f08050" stroke-width="0.8" fill="none"/>
<path d="M590,280v7M597,280v7M604,280v7M611,280v7M588,292v8M596,293v6" stroke="#333" stroke-width="0.35"/>
<text x="583" y="277.5" font-size="2.8" fill="#333" textLength="30" lengthAdjust="spacing">**  *  *  *  *</text>
<g font-size="2.8"><text x="606" y="302" fill="#7ab0e8">+ U</text><text x="606" y="306" fill="#222">• O</text><text x="606" y="310" fill="#f08050">■ L</text></g>
<g font-size="2.4" fill="#333">
<text transform="translate(570,326) rotate(-60)">-9</text><text transform="translate(580,326) rotate(-60)">-8</text><text transform="translate(590,326) rotate(-60)">-7</text><text transform="translate(600,326) rotate(-60)">-6</text><text transform="translate(610,326) rotate(-60)">-5</text>
</g>
<text x="588" y="330" font-size="3" font-weight="bold" fill="#333" text-anchor="middle">ATP (M)</text>
<!-- Fig 4C table -->
<path d="M625,278H710M625,287H710M625,301H710M625,315H710M625,328.5H710" stroke="#666" stroke-width="0.4"/>
<g font-size="4" fill="#222" text-anchor="middle">
<text x="652" y="284.5" font-weight="bold">EC50 (M)</text><text x="688" y="284.5" font-weight="bold">CI</text>
<text x="656" y="296">2.046 × 10⁻⁷</text><text x="690" y="292">1.787 × 10⁻⁷ to 2.323</text><text x="690" y="298.5">× 10⁻⁷</text>
<text x="656" y="310">~3.889 × 10⁻⁷</text><text x="690" y="310">wide</text>
<text x="656" y="323">3.122 × 10⁻⁷</text><text x="690" y="319.5">2.769 × 10⁻⁷ to 3.583</text><text x="690" y="326">× 10⁻⁷</text>
</g>
<g font-size="4.8">
<text x="636" y="296" fill="#5a8ed0">U</text><text x="636" y="310" fill="#222">O</text><text x="636" y="323" fill="#e06a30">L</text>
</g>
<path d="M627,294h6M630,292v4" stroke="#7ab0e8" stroke-width="0.5"/>
<path d="M627,308h6" stroke="#222" stroke-width="0.5" stroke-dasharray="1,0.6"/>
<path d="M627,321h6" stroke="#f08050" stroke-width="0.6"/>
<!-- Fig 4D -->
<text transform="translate(761,300) rotate(-90)" font-size="3.2" fill="#333" text-anchor="middle">AUC</text>
<g font-size="2.8" fill="#333" text-anchor="end"><text x="770" y="281">200</text><text x="770" y="292">150</text><text x="770" y="303">100</text><text x="770" y="314">50</text></g>
<path d="M772,279V319H797" stroke="#333" stroke-width="0.5" fill="none"/>
<polyline points="774,318 781,317 785,305 788,297 797,297" stroke="#7ab0e8" stroke-width="0.7" fill="none"/>
<polyline points="774,318 780,317 783,296 786,285 797,285" stroke="#222" stroke-width="0.6" fill="none" stroke-dasharray="1,0.6"/>
<polyline points="774,317 779,316 782,300 785,284 797,284" stroke="#f08050" stroke-width="0.8" fill="none"/>
<path d="M785,280v8M790,280v8M795,280v8" stroke="#333" stroke-width="0.35"/>
<g font-size="2.6"><text x="779" y="306" fill="#7ab0e8">+ U</text><text x="779" y="310" fill="#222">• O</text><text x="779" y="314" fill="#f08050">■ L</text></g>
<text x="784" y="327" font-size="3" font-weight="bold" fill="#333" text-anchor="middle">ATP (M)</text>
<g class="c">
<text x="537" y="338.2" textLength="228" lengthAdjust="spacingAndGlyphs" font-weight="bold">Figure 4: Altered responses to the calcium mobilizing agonist ATP in MCF-7 cells on micropatterns.</text>
<text x="537" y="344.8" textLength="223" lengthAdjust="spacingAndGlyphs"><tspan font-weight="bold">A</tspan> [Ca²⁺]CYT changes in GCaMP6m-MCF-7 cells on unpatterned surfaces and on "O" and "L" micropatterns at</text>
<text x="537" y="350.8" textLength="253" lengthAdjust="spacingAndGlyphs">different ATP concentrations. [Ca²⁺]CYT from ten randomly selected cells. <tspan font-weight="bold">B</tspan> Maximum relative [Ca²⁺]CYT changes</text>
<text x="537" y="356.8" textLength="209" lengthAdjust="spacingAndGlyphs">(ΔF/F0). <tspan font-weight="bold">C</tspan> EC50 and <tspan font-weight="bold">D</tspan> area under the curve (AUC) for cells on unpatterned surfaces and on "O" and "L"</text>
<text x="537" y="362.8" textLength="226" lengthAdjust="spacingAndGlyphs">micropatterns induced by different concentrations of ATP. Data shown represent the mean ± S.E.M from four</text>
<text x="537" y="368.8" textLength="247" lengthAdjust="spacingAndGlyphs">independent cell passages (n = 4). Statistical analysis was performed using a two-way ANOVA with Tukey's multiple</text>
<text x="537" y="374.8" textLength="242" lengthAdjust="spacingAndGlyphs">comparison test, with matched pairing of each cell shape to other shapes of the same cell passage. Unmarked P ≥</text>
<text x="537" y="380.8" textLength="150" lengthAdjust="spacingAndGlyphs">0.05; "U" vs "L" – * P &lt; 0.05, ** P &lt; 0.01; "U" vs "O" – # P &lt; 0.05, ## P &lt; 0.01.</text>
</g>
<!-- CONCLUSIONS -->
<rect x="533" y="383" width="264" height="66" fill="#fef5dc"/>
<rect x="533" y="383" width="264" height="14" fill="#fbe6b0"/>
<text x="538" y="394.5" font-size="10" font-weight="bold" fill="#333" textLength="57" lengthAdjust="spacingAndGlyphs">Conclusions</text>
<g class="b" font-size="6.1">
<text x="540" y="402.2" font-size="6.1">•</text><text x="545" y="402.2" font-size="6.1" textLength="243" lengthAdjust="spacing">MCF-7 breast cancer cells were able to adopt specific shapes consistent with the surface</text>
<text x="545" y="409.5" font-size="6.1" textLength="40" lengthAdjust="spacingAndGlyphs">micropatterning.</text>
<text x="540" y="417.2" font-size="6.1">•</text><text x="545" y="417.2" font-size="6.1" textLength="243" lengthAdjust="spacingAndGlyphs">Cytosolic free Ca²⁺ ([Ca²⁺]CYT) responses to calcium mobilizing agonist ATP can be assessed in</text>
<text x="545" y="424.8" font-size="6.1" textLength="62" lengthAdjust="spacingAndGlyphs">MCF-7 cells on micropatterns.</text>
<text x="540" y="432.2" font-size="6.1">•</text><text x="545" y="432.2" font-size="6.1" textLength="195" lengthAdjust="spacingAndGlyphs">Cellular morphology is a regulator of the ATP-stimulated [Ca²⁺]CYT responses.</text>
<text x="540" y="439.8" font-size="6.1">•</text><text x="545" y="439.8" font-size="6.1" textLength="243" lengthAdjust="spacing">Cancer cells stably expressing genetically encoded calcium indicator seeded on multiwell</text>
<text x="545" y="447" font-size="6.1" textLength="213" lengthAdjust="spacingAndGlyphs">micropatterned plates provide suitable platform for future high-throughput screening.</text>
</g>
</svg>
</body></html>
